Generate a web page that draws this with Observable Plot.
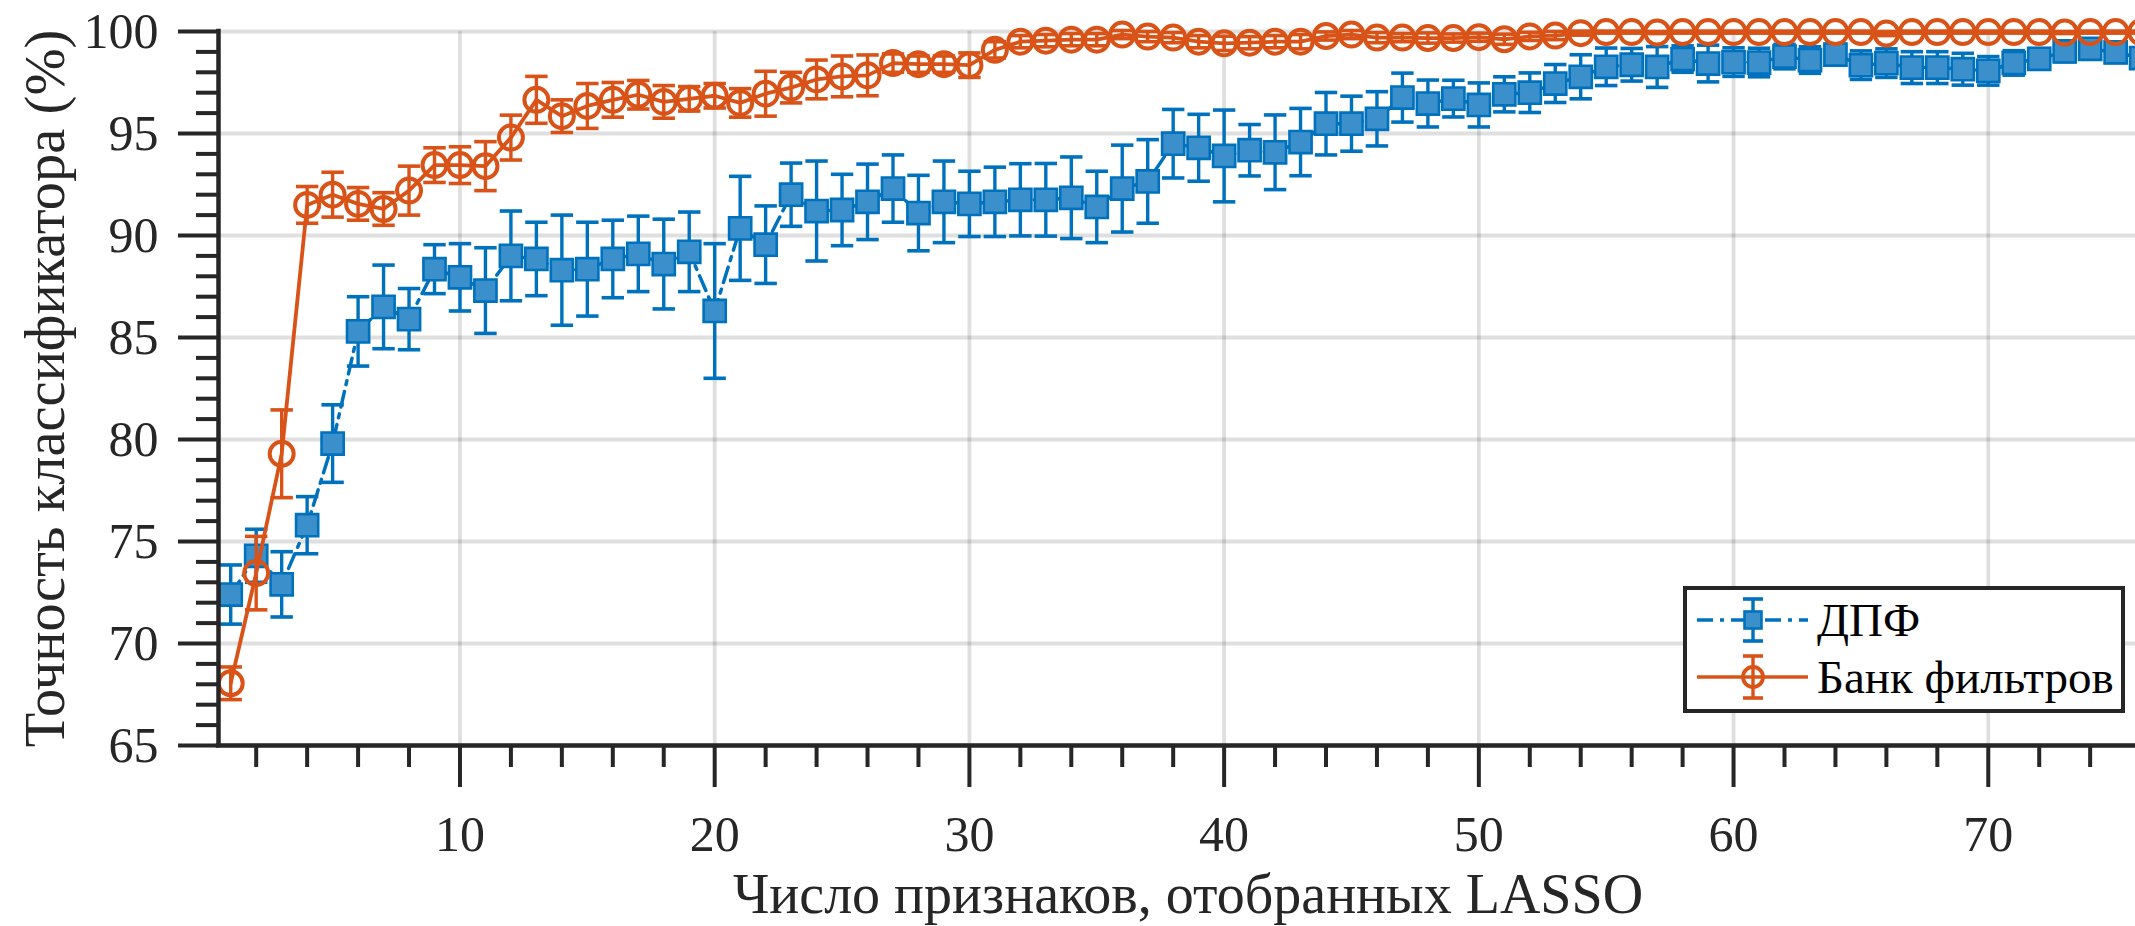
<!DOCTYPE html>
<html>
<head>
<meta charset="utf-8">
<script src="https://cdn.jsdelivr.net/npm/d3@7"></script>
<script src="https://cdn.jsdelivr.net/npm/@observablehq/plot@0.6"></script>
<style>
  html, body { margin: 0; padding: 0; background: #fff; overflow: hidden; }
  svg { display: block; }
</style>
</head>
<body>
<div id="chart"></div>
<script>
// Number of features selected by LASSO
const featureCounts = d3.range(1, 77);

// Series 1: ДПФ (mean accuracy, %, and error half-width)
const dftMean = [
  72.4, 74.3, 72.9, 75.8, 79.8, 85.3, 86.5, 85.9, 88.35, 87.95,
  87.3, 89.0, 88.85, 88.3, 88.35, 88.85, 89.1, 88.6, 89.2, 86.3,
  90.35, 89.55, 92.0, 91.2, 91.25, 91.65, 92.3, 91.1, 91.65, 91.55,
  91.65, 91.75, 91.75, 91.85, 91.4, 92.3, 92.65, 94.5, 94.3, 93.9,
  94.18, 94.08, 94.58, 95.48, 95.48, 95.72, 96.76, 96.47, 96.71, 96.4,
  96.92, 97.0, 97.45, 97.78, 98.27, 98.37, 98.26, 98.65, 98.43, 98.5,
  98.48, 98.77, 98.6, 98.87, 98.35, 98.45, 98.23, 98.23, 98.15, 98.07,
  98.46, 98.66, 99.02, 99.15, 98.98, 98.7
];
const dftErr = [
  1.45, 1.3, 1.6, 1.4, 1.9, 1.7, 2.05, 1.5, 1.2, 1.65,
  2.1, 2.2, 1.8, 2.7, 2.3, 1.9, 1.85, 2.2, 1.95, 3.3,
  2.55, 1.9, 1.55, 2.45, 1.75, 1.85, 1.65, 1.85, 2.0, 1.6,
  1.7, 1.77, 1.78, 2.0, 1.75, 2.13, 2.05, 1.68, 1.64, 2.25,
  1.26, 1.83, 1.65, 1.53, 1.35, 1.33, 1.2, 1.15, 0.9, 1.08,
  0.86, 0.97, 0.93, 1.08, 0.92, 0.8, 1.0, 0.65, 0.9, 0.7,
  0.7, 0.6, 0.65, 0.5, 0.7, 0.7, 0.78, 0.78, 0.78, 0.7,
  0.6, 0.5, 0.5, 0.4, 0.5, 0.5
];

// Series 2: Банк фильтров
const fbMean = [
  68.05, 73.45, 79.3, 91.5, 92.0, 91.55, 91.3, 92.2, 93.45, 93.45,
  93.4, 94.8, 96.65, 95.85, 96.35, 96.65, 96.9, 96.55, 96.7, 96.85,
  96.5, 96.95, 97.25, 97.65, 97.8, 97.85, 98.45, 98.4, 98.4, 98.35,
  99.1, 99.5, 99.55, 99.6, 99.6, 99.85, 99.75, 99.7, 99.5, 99.42,
  99.45, 99.5, 99.5, 99.78, 99.85, 99.7, 99.7, 99.68, 99.68, 99.72,
  99.62, 99.76, 99.8, 99.92, 99.97, 99.97, 99.95, 99.97, 99.97, 99.97,
  99.97, 99.97, 99.97, 99.97, 99.97, 99.9, 99.97, 99.97, 99.97, 99.97,
  99.97, 99.97, 99.95, 99.97, 99.97, 99.97
];
const fbErr = [
  0.8, 1.8, 2.15, 0.9, 1.1, 0.8, 0.8, 1.2, 0.85, 0.9,
  1.2, 1.1, 1.15, 0.8, 1.1, 0.85, 0.7, 0.8, 0.6, 0.6,
  0.7, 1.1, 0.75, 0.95, 1.0, 1.0, 0.45, 0.4, 0.4, 0.6,
  0.4, 0.3, 0.3, 0.3, 0.3, 0.2, 0.25, 0.25, 0.3, 0.35,
  0.3, 0.3, 0.35, 0.2, 0.2, 0.25, 0.2, 0.25, 0.2, 0.2,
  0.25, 0.2, 0.2, 0.1, 0.05, 0.05, 0.05, 0.05, 0.05, 0.05,
  0.05, 0.05, 0.05, 0.05, 0.05, 0.1, 0.05, 0.05, 0.05, 0.05,
  0.05, 0.05, 0.05, 0.05, 0.05, 0.05
];

const seriesNames = ["ДПФ", "Банк фильтров"];
const xMajorTicks = [10, 20, 30, 40, 50, 60, 70];
const xMinorTicks = d3.range(2, 76, 2).filter(v => v % 10 !== 0);
const yMajorTicks = [65, 70, 75, 80, 85, 90, 95, 100];
const yMinorTicks = d3.range(65, 101, 1).filter(v => v % 5 !== 0);
const xLabel = "Число признаков, отобранных LASSO";
const yLabel = "Точность классификатора (%)";

const blue = "#0072BD";
const blueFill = "#3B8FCB";
const orange = "#D95319";
const axisColor = "#262626";
const font = "'Liberation Serif', 'Times New Roman', serif";
const cap = 0.44; // half width of error-bar caps in x units

const dft = featureCounts.map((x, i) => ({x, y: dftMean[i], e: dftErr[i]}));
const fb = featureCounts.map((x, i) => ({x, y: fbMean[i], e: fbErr[i]}));

function errorMarks(data, color) {
  return [
    Plot.link(data, {x1: "x", x2: "x", y1: d => d.y - d.e, y2: d => d.y + d.e, stroke: color, strokeWidth: 3.4}),
    Plot.link(data, {x1: d => d.x - cap, x2: d => d.x + cap, y1: d => d.y + d.e, y2: d => d.y + d.e, stroke: color, strokeWidth: 3.6}),
    Plot.link(data, {x1: d => d.x - cap, x2: d => d.x + cap, y1: d => d.y - d.e, y2: d => d.y - d.e, stroke: color, strokeWidth: 3.6})
  ];
}

const chart = Plot.plot({
  width: 2135,
  height: 926,
  marginLeft: 218,
  marginRight: 0,
  marginTop: 31,
  marginBottom: 181,
  x: {domain: [0.52, 75.78]},
  y: {domain: [65, 100]},
  style: {fontFamily: font, background: "white"},
  marks: [
    Plot.gridY(yMajorTicks, {stroke: axisColor, strokeOpacity: 0.15, strokeWidth: 3.8}),
    Plot.gridX(xMajorTicks, {stroke: axisColor, strokeOpacity: 0.15, strokeWidth: 3.8}),

    ...errorMarks(dft, blue),
    Plot.line(dft, {x: "x", y: "y", stroke: blue, strokeWidth: 3.5, strokeDasharray: "16,7,4,7"}),
    Plot.dot(dft, {x: "x", y: "y", symbol: "square", r: 12.5, fill: blueFill, stroke: blue, strokeWidth: 2.6}),

    ...errorMarks(fb, orange),
    Plot.line(fb, {x: "x", y: "y", stroke: orange, strokeWidth: 3.8}),
    Plot.dot(fb, {x: "x", y: "y", symbol: "circle", r: 12, fill: "none", stroke: orange, strokeWidth: 4}),

    Plot.ruleY([65], {stroke: axisColor, strokeWidth: 4.5, strokeLinecap: "square"}),
    Plot.ruleX([0.52], {stroke: axisColor, strokeWidth: 4.5, strokeLinecap: "square"}),

    Plot.axisY({ticks: yMajorTicks, tickSize: 40, tickPadding: 20, fontSize: 50, label: null, strokeWidth: 4, color: axisColor}),
    Plot.axisY({ticks: yMinorTicks, tickSize: 22, tickFormat: () => "", label: null, strokeWidth: 4, color: axisColor}),
    Plot.axisX({ticks: xMajorTicks, tickSize: 42, tickPadding: 28, fontSize: 50, label: null, strokeWidth: 4, color: axisColor}),
    Plot.axisX({ticks: xMinorTicks, tickSize: 22, tickFormat: () => "", label: null, strokeWidth: 4, color: axisColor}),

    Plot.text([xLabel], {text: d => d, frameAnchor: "bottom", textAnchor: "middle", dy: 150, dx: 11, fontSize: 56, fill: axisColor, lineAnchor: "middle"}),
    Plot.text([yLabel], {text: d => d, frameAnchor: "left", textAnchor: "middle", rotate: -90, dx: -173, fontSize: 56.5, fill: axisColor, lineAnchor: "middle"})
  ]
});

document.getElementById("chart").appendChild(chart);

// Legend (inside the plot, lower right)
const svg = d3.select(chart);
const lg = svg.append("g").attr("font-family", font).attr("text-anchor", "start");
lg.append("rect")
  .attr("x", 1685).attr("y", 588).attr("width", 438).attr("height", 123)
  .attr("fill", "white").attr("stroke", axisColor).attr("stroke-width", 4);

const legendStyles = [
  {color: blue, dash: "16,7,4,7", marker: "square"},
  {color: orange, dash: null, marker: "circle"}
];
const rowY = [620, 677];
const rows = lg.selectAll("g.row").data(seriesNames).join("g")
  .attr("class", "row")
  .attr("transform", (d, i) => `translate(0,${rowY[i]})`);
rows.each(function(name, i) {
  const g = d3.select(this);
  const s = legendStyles[i];
  g.append("line").attr("x1", 1697).attr("x2", 1808).attr("y1", 0).attr("y2", 0)
    .attr("stroke", s.color).attr("stroke-width", 3.6)
    .attr("stroke-dasharray", s.dash);
  g.append("line").attr("x1", 1753).attr("x2", 1753).attr("y1", -21).attr("y2", 21)
    .attr("stroke", s.color).attr("stroke-width", 3.4);
  [-21, 21].forEach(dy => g.append("line").attr("x1", 1743).attr("x2", 1763).attr("y1", dy).attr("y2", dy)
    .attr("stroke", s.color).attr("stroke-width", 3.6));
  if (s.marker === "square") {
    g.append("rect").attr("x", 1753 - 8.5).attr("y", -8.5).attr("width", 17).attr("height", 17)
      .attr("fill", blueFill).attr("stroke", blue).attr("stroke-width", 2.6);
  } else {
    g.append("circle").attr("cx", 1753).attr("cy", 0).attr("r", 10)
      .attr("fill", "none").attr("stroke", orange).attr("stroke-width", 3.8);
  }
  g.append("text").attr("x", 1817).attr("y", 0).attr("dy", "0.35em")
    .attr("text-anchor", "start")
    .attr("font-size", 47).attr("fill", "#000").text(name);
});
</script>
</body>
</html>
